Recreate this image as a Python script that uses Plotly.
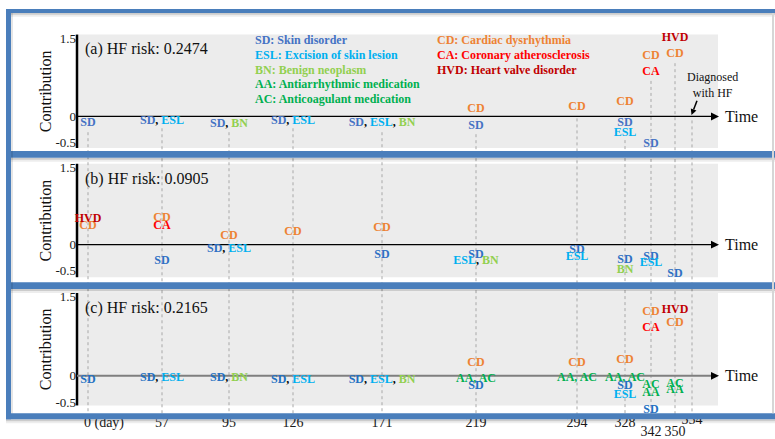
import plotly.graph_objects as go

# ---------------- data ----------------
tick_days = [0, 57, 95, 126, 171, 219, 294, 328, 342, 350, 354]
tick_text = ["0 (day)", "57", "95", "126", "171", "219", "294", "328", "342", "350", "354"]

panel_tags = ["(a)", "(b)", "(c)"]
hf_risk = [0.2474, 0.0905, 0.2165]

# panel (a): contribution of each event group
a_days = [0, 57, 95, 126, 171, 219, 219, 294, 328, 328, 328, 342, 342, 342, 350, 350]
a_vals = [-0.13, -0.08, -0.15, -0.08, -0.13, 0.15, -0.19, 0.19, 0.27, -0.13, -0.32,
          1.16, 0.85, -0.53, 1.50, 1.20]
a_codes = ["SD", "SD,ESL", "SD,BN", "SD,ESL", "SD,ESL,BN", "CD", "SD", "CD", "CD", "SD",
           "ESL", "CD", "CA", "SD", "HVD", "CD"]

# panel (b)
b_days = [0, 0, 57, 57, 57, 95, 95, 126, 171, 171, 219, 219, 294, 294, 328, 328, 342, 342, 350]
b_vals = [0.36, 0.50, 0.51, 0.36, -0.32, 0.17, -0.08, 0.25, 0.32, -0.19, -0.19, -0.32,
          -0.10, -0.23, -0.30, -0.48, -0.23, -0.36, -0.57]
b_codes = ["CD", "HVD", "CD", "CA", "SD", "CD", "SD,ESL", "CD", "CD", "SD", "SD", "ESL,BN",
           "SD", "ESL", "SD", "BN", "SD", "ESL", "SD"]

# panel (c)
c_days = [0, 57, 95, 126, 171, 219, 219, 219, 294, 294, 328, 328, 328, 328,
          342, 342, 342, 342, 342, 350, 350, 350, 350]
c_vals = [-0.07, -0.04, -0.04, -0.07, -0.07, 0.24, -0.06, -0.19, 0.24, -0.04, 0.30, -0.04,
          -0.19, -0.36, 1.21, 0.90, -0.17, -0.32, -0.64, 1.25, 1.01, -0.15, -0.26]
c_codes = ["SD", "SD,ESL", "SD,BN", "SD,ESL", "SD,ESL,BN", "CD", "AA,AC", "SD", "CD", "AA,AC",
           "CD", "AA,AC", "SD", "ESL", "CD", "CA", "AC", "AA", "SD", "HVD", "CD", "AC", "AA"]

legend_left_codes = ["SD", "ESL", "BN", "AA", "AC"]
legend_left_names = ["Skin disorder", "Excision of skin lesion", "Benign neoplasm",
                     "Antiarrhythmic medication", "Anticoagulant medication"]
legend_right_codes = ["CD", "CA", "HVD"]
legend_right_names = ["Cardiac dysrhythmia", "Coronary atherosclerosis", "Heart valve disorder"]

# ---------------- styling / layout ----------------
W, H = 775, 439
FONT = "Liberation Serif, Times New Roman, serif"
BLUE = "#4A7EBB"
GRAY_BG = "#ECECEC"

CODE_COLORS = {"ESL": "#00B0F0", "BN": "#92D050", "AA": "#00B050", "AC": "#00B050",
               "CD": "#EE8233", "CA": "#FF0000", "HVD": "#C00000"}
SD_COLORS = ["#4472C4", "#2F70C4", "#2270C2"]

# schematic (non-linear) timeline positions for each visit day
slot_x = [11, 85, 152, 216, 305, 399, 500, 548, 574, 598, 615]
slot = dict(zip(tick_days, slot_x))
X_PX = (77, 718)          # horizontal extent of the plotting strips (px)
X_RANGE = (0, 641)

# per panel: top px, bottom px, zero-line px, px per unit of contribution
panel_px = [(31, 146, 114, 52.7), (162, 277, 244, 52.5), (293, 407, 377, 53.5)]
# the lowest axis reaches down to the day labels so they stay inside its range
axis_bottom_px = [146, 277, H]
yaxis_names = ["y", "y2", "y3"]

# where the dashed day guides start in the top strip (px)
guide_top = [130, 126, 130, 126, 130, 132, 116, 138, 78, 60, 118]
GUIDE_BOTTOM = 419


def fx(px):
    return px / W


def fy(py):
    return 1 - py / H


def slot_paper(s):
    return fx(X_PX[0] + (s - X_RANGE[0]) / (X_RANGE[1] - X_RANGE[0]) * (X_PX[1] - X_PX[0]))


def label_html(code, sd_color):
    parts = code.split(",")
    cols = [sd_color if p == "SD" else CODE_COLORS[p] for p in parts]
    sep = cols[0] if len(set(cols)) == 1 else "#000000"
    spans = [f"<span style='color:{c}'>{p}</span>" for p, c in zip(parts, cols)]
    return "<b>" + f"<span style='color:{sep}'>, </span>".join(spans) + "</b>"


fig = go.Figure()

panels = [(a_days, a_vals, a_codes), (b_days, b_vals, b_codes), (c_days, c_vals, c_codes)]
for i, (dd, vv, cc) in enumerate(panels):
    fig.add_trace(go.Scatter(
        x=[slot[d] for d in dd], y=vv, mode="text",
        text=[label_html(c, SD_COLORS[i]) for c in cc],
        textposition="middle center",
        textfont=dict(family=FONT, size=12, color="#000000"),
        cliponaxis=False, hoverinfo="skip", showlegend=False,
        xaxis="x", yaxis=yaxis_names[i]))

# day labels under the bottom strip
top_c, bot_c, zero_c, scale_c = panel_px[2]
tick_row_px = {342: 434, 350: 434, 354: 422}
tick_shift_px = {0: 16}
fig.add_trace(go.Scatter(
    x=[slot[d] + tick_shift_px.get(d, 0) for d in tick_days],
    y=[(zero_c - tick_row_px.get(d, 425)) / scale_c for d in tick_days],
    mode="text", text=tick_text, textposition="middle center",
    textfont=dict(family=FONT, size=14, color="#1a1a1a"),
    cliponaxis=False, hoverinfo="skip", showlegend=False, xaxis="x", yaxis="y3"))

shapes = []
annotations = []

# grey strips
for (top, bot, zero, sc) in panel_px:
    shapes.append(dict(type="rect", xref="paper", yref="paper", layer="below",
                       x0=fx(X_PX[0]), x1=fx(X_PX[1]), y0=fy(bot), y1=fy(top),
                       fillcolor=GRAY_BG, line=dict(width=0)))

# dashed day guides
for d, t in zip(tick_days, guide_top):
    xp = slot_paper(slot[d])
    shapes.append(dict(type="line", xref="paper", yref="paper", layer="below",
                       x0=xp, x1=xp, y0=fy(t), y1=fy(GUIDE_BOTTOM),
                       line=dict(color="#A8A8A8", width=1, dash="3px,3px")))

# contribution axes and time axes with arrow heads
for i, (top, bot, zero, sc) in enumerate(panel_px):
    shapes.append(dict(type="line", xref="paper", yref="paper", layer="below",
                       x0=fx(77), x1=fx(77), y0=fy(bot), y1=fy(top),
                       line=dict(color="#000000", width=2.5)))
    lc, lw = ("#7F7F7F", 2) if i == 2 else ("#000000", 1.3)
    shapes.append(dict(type="line", xref="paper", yref="paper", layer="below",
                       x0=fx(X_PX[0]), x1=fx(713), y0=fy(zero), y1=fy(zero),
                       line=dict(color=lc, width=lw)))
    shapes.append(dict(type="path", xref="paper", yref="paper", layer="below",
                       path=f"M {fx(711)},{fy(zero - 4)} L {fx(719)},{fy(zero)} "
                            f"L {fx(711)},{fy(zero + 4)} Z",
                       fillcolor="#000000", line=dict(width=0)))
    annotations.append(dict(xref="paper", yref="paper", x=fx(723), y=fy(zero),
                            xanchor="left", yanchor="middle", showarrow=False,
                            text="Time", font=dict(family=FONT, size=16, color="#111")))
    annotations.append(dict(xref="paper", yref="paper", x=fx(83), y=fy(top + 15),
                            xanchor="left", yanchor="middle", showarrow=False,
                            text=f"{panel_tags[i]} HF risk: {hf_risk[i]:.4f}",
                            font=dict(family=FONT, size=16, color="#111")))
    annotations.append(dict(xref="paper", yref="paper", x=fx(45), y=fy((top + bot) / 2),
                            xanchor="center", yanchor="middle", showarrow=False,
                            textangle=-90, text="Contribution",
                            font=dict(family=FONT, size=16, color="#111")))

# legend text
for k, (c, n) in enumerate(zip(legend_left_codes, legend_left_names)):
    col = SD_COLORS[0] if c == "SD" else CODE_COLORS[c]
    annotations.append(dict(xref="paper", yref="paper", x=fx(253), y=fy(37 + 14.8 * k),
                            xanchor="left", yanchor="middle", showarrow=False,
                            text=f"<b>{c}: {n}</b>", font=dict(family=FONT, size=12, color=col)))
for k, (c, n) in enumerate(zip(legend_right_codes, legend_right_names)):
    annotations.append(dict(xref="paper", yref="paper", x=fx(435), y=fy(37 + 14.8 * k),
                            xanchor="left", yanchor="middle", showarrow=False,
                            text=f"<b>{c}: {n}</b>",
                            font=dict(family=FONT, size=12, color=CODE_COLORS[c])))

# diagnosis marker: caption and a small arrow down to the time axis
annotations.append(dict(xref="paper", yref="paper", x=fx(712), y=fy(82),
                        xanchor="center", yanchor="middle", showarrow=False,
                        text="Diagnosed<br>with HF",
                        font=dict(family=FONT, size=12, color="#111")))
tail, tip = (697.0, 98.0), (691.5, 112.5)
dx, dy = tip[0] - tail[0], tip[1] - tail[1]
ln = (dx * dx + dy * dy) ** 0.5
ux, uy = dx / ln, dy / ln
bx, by = tip[0] - 6 * ux, tip[1] - 6 * uy
shapes.append(dict(type="line", xref="paper", yref="paper", layer="above",
                   x0=fx(tail[0]), y0=fy(tail[1]), x1=fx(bx), y1=fy(by),
                   line=dict(color="#000000", width=1.5)))
shapes.append(dict(type="path", xref="paper", yref="paper", layer="above",
                   path=f"M {fx(tip[0])},{fy(tip[1])} "
                        f"L {fx(bx - 3 * uy)},{fy(by + 3 * ux)} "
                        f"L {fx(bx + 3 * uy)},{fy(by - 3 * ux)} Z",
                   fillcolor="#000000", line=dict(width=0)))

# blue frames around the three strips
bars = [(5, 9), (149, 156), (282, 289), (415, 421)]
for (y0, y1) in bars:
    shapes.append(dict(type="rect", xref="paper", yref="paper", layer="above",
                       x0=fx(6), x1=1, y0=fy(y1 + 2), y1=fy(y1),
                       fillcolor="rgba(0,0,0,0.20)", line=dict(width=0)))
    shapes.append(dict(type="rect", xref="paper", yref="paper", layer="above",
                       x0=fx(6), x1=1, y0=fy(y1 + 4), y1=fy(y1 + 2),
                       fillcolor="rgba(0,0,0,0.07)", line=dict(width=0)))
    shapes.append(dict(type="rect", xref="paper", yref="paper", layer="above",
                       x0=fx(6), x1=1, y0=fy(y1), y1=fy(y0),
                       fillcolor=BLUE, line=dict(width=0)))
shapes.append(dict(type="rect", xref="paper", yref="paper", layer="above",
                   x0=fx(11), x1=fx(13), y0=fy(415), y1=fy(9),
                   fillcolor="rgba(0,0,0,0.10)", line=dict(width=0)))
shapes.append(dict(type="rect", xref="paper", yref="paper", layer="above",
                   x0=fx(6), x1=fx(11), y0=fy(421), y1=fy(5),
                   fillcolor=BLUE, line=dict(width=0)))
shapes.append(dict(type="rect", xref="paper", yref="paper", layer="above",
                   x0=fx(772), x1=fx(774), y0=fy(415), y1=fy(9),
                   fillcolor="#D6D6D6", line=dict(width=0)))

layout = dict(
    width=W, height=H, margin=dict(l=0, r=0, t=0, b=0),
    paper_bgcolor="white", plot_bgcolor="rgba(0,0,0,0)",
    showlegend=False, shapes=shapes, annotations=annotations,
    xaxis=dict(domain=[fx(X_PX[0]), fx(X_PX[1])], range=list(X_RANGE), visible=False,
               fixedrange=True, anchor="y3"),
)
for i, (top, bot, zero, sc) in enumerate(panel_px):
    key = "yaxis" if i == 0 else f"yaxis{i + 1}"
    abot = axis_bottom_px[i]
    layout[key] = dict(
        domain=[fy(abot), fy(top)],
        range=[(zero - abot) / sc, (zero - top) / sc],
        anchor="x", showgrid=False, zeroline=False, showline=False,
        ticks="", tickvals=[-0.5, 0, 1.5], ticktext=["-0.5", "0", "1.5"],
        tickfont=dict(family=FONT, size=13, color="#1a1a1a"),
        fixedrange=True,
    )

fig.update_layout(**layout)
fig.write_html("out.html")
